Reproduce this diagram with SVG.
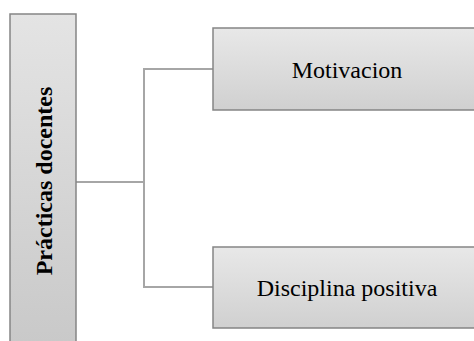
<svg xmlns="http://www.w3.org/2000/svg" width="474" height="341" viewBox="0 0 474 341">
<defs>
<linearGradient id="gv" x1="0" y1="0" x2="0" y2="1">
<stop offset="0" stop-color="#e4e4e4"/>
<stop offset="1" stop-color="#c8c8c8"/>
</linearGradient>
<linearGradient id="gb" x1="0" y1="0" x2="0" y2="1">
<stop offset="0" stop-color="#e8e8e8"/>
<stop offset="1" stop-color="#d0d0d0"/>
</linearGradient>
</defs>
<style>
.box{stroke:#858585;stroke-width:1.5}
.lbl{font-family:"Liberation Serif","Times New Roman",serif;font-size:24px;fill:#000;text-anchor:middle}
.conn{fill:none;stroke:#a6a6a6;stroke-width:2}
</style>
<rect width="474" height="341" fill="#fff"/>
<g id="connectors">
<polyline class="conn" points="76,182 144,182"/>
<polyline class="conn" points="213,69 144,69 144,287 213,287"/>
</g>
<g id="node-practicas">
<rect class="box" x="10" y="14" width="66" height="340" fill="url(#gv)"/>
<text class="lbl" transform="translate(52,181) rotate(-90)" style="font-weight:bold">Prácticas docentes</text>
</g>
<g id="node-motivacion">
<rect class="box" x="213" y="28" width="275" height="82" fill="url(#gb)"/>
<text class="lbl" x="347" y="78">Motivacion</text>
</g>
<g id="node-disciplina">
<rect class="box" x="213" y="247" width="275" height="81" fill="url(#gb)"/>
<text class="lbl" x="347" y="296">Disciplina positiva</text>
</g>
</svg>
